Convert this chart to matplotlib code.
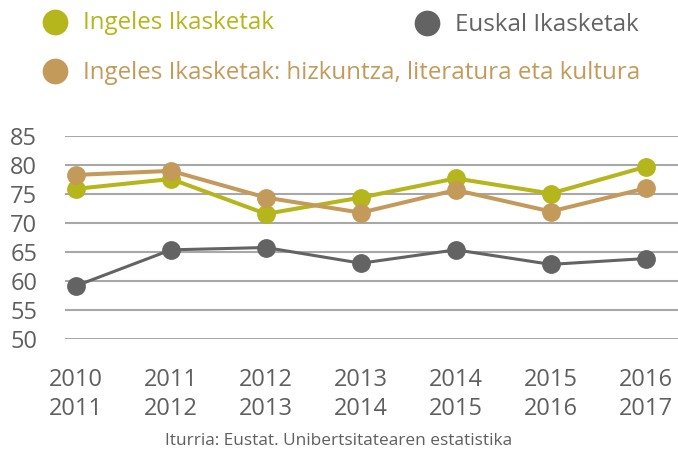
import matplotlib.pyplot as plt
from matplotlib.lines import Line2D

# data
periods = ["2010\n2011", "2011\n2012", "2012\n2013", "2013\n2014",
           "2014\n2015", "2015\n2016", "2016\n2017"]
ingeles = [75.9, 77.6, 71.6, 74.4, 77.7, 75.1, 79.7]
ingeles_hlk = [78.3, 79.0, 74.4, 71.8, 75.7, 72.0, 76.0]
euskal = [59.2, 65.4, 65.8, 63.1, 65.4, 62.9, 63.9]
y_ticks = [50, 55, 60, 65, 70, 75, 80, 85]

series_names = ["Ingeles Ikasketak", "Euskal Ikasketak",
                "Ingeles Ikasketak: hizkuntza, literatura eta kultura"]

GREEN = "#b5b51c"
TAN = "#c49a5a"
GREY = "#636363"
TEXT = "#5f5f5f"
GRID = "#a8a8a8"

plt.rcParams["font.family"] = ["Open Sans", "DejaVu Sans"]

W, H = 678, 459
fig = plt.figure(figsize=(W / 100, H / 100), dpi=100)
ax = fig.add_axes([65 / W, 1 - 339.3 / H, 1 - 65 / W, (339.3 - 136) / H])

x = list(range(len(periods)))
ax.plot(x, euskal, color=GREY, lw=2.2, marker="o", ms=12.5, zorder=3)
ax.plot(x, ingeles, color=GREEN, lw=2.9, marker="o", ms=12.5, zorder=4)
ax.plot(x, ingeles_hlk, color=TAN, lw=2.9, marker="o", ms=12.5, zorder=5)

ax.set_ylim(50, 85)
ax.set_xlim(-0.116, 6.34)
ax.set_yticks(y_ticks)
ax.set_xticks(x)
ax.set_xticklabels(periods, linespacing=1.27)
ax.tick_params(axis="both", length=0, labelsize=17, labelcolor=TEXT)
ax.tick_params(axis="y", pad=20)
ax.tick_params(axis="x", pad=21)
ax.grid(axis="y", color=GRID, lw=1.5)
ax.set_axisbelow(True)
for sp in ax.spines.values():
    sp.set_visible(False)

# legend built by hand: two entries on the first row, one on the second
# (name, colour, marker x, marker y, text baseline y) in pixels from top-left
legend_items = [(series_names[0], GREEN, 55, 21.5, 29),
                (series_names[1], GREY, 427, 23, 31),
                (series_names[2], TAN, 55, 71, 79)]
for name, col, px, py, by in legend_items:
    fig.add_artist(Line2D([px / W], [1 - py / H], marker="o", ms=17.5,
                          color=col, transform=fig.transFigure))
    fig.text((px + 28) / W, 1 - by / H, name, color=col, fontsize=17.4,
             va="baseline", ha="left")

fig.text(0.5, 1 - 441 / H, "Iturria: Eustat. Unibertsitatearen estatistika",
         color=TEXT, fontsize=12.4, ha="center", va="center")

fig.savefig("out.png", dpi=100)
